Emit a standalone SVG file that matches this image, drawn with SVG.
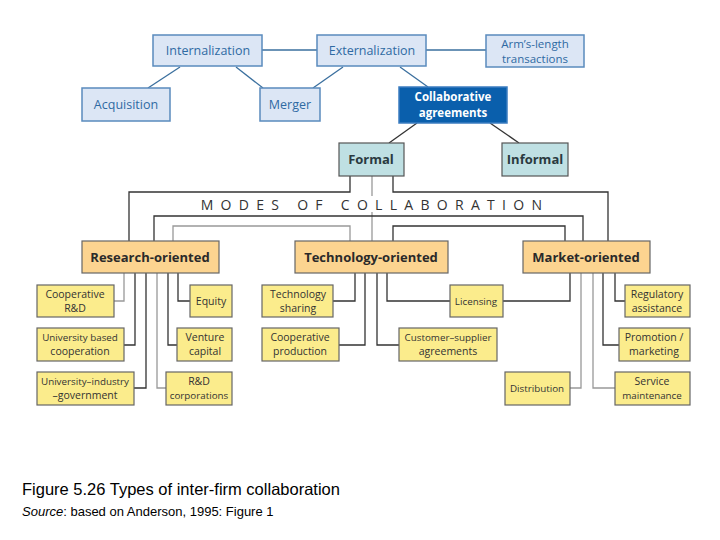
<svg xmlns="http://www.w3.org/2000/svg" width="720" height="540" viewBox="0 0 720 540">
<style>
text{font-family:"Liberation Sans Narrow","Open Sans","Liberation Sans",sans-serif;text-anchor:middle}
.b rect{fill:#dce6f5;stroke:#5a8bbd;stroke-width:1.5}
.b text{fill:#2f6aa3;font-size:12.5px}
.b text.s{font-size:11.5px}
.c rect{fill:#0a5fac;stroke:#3b7cc0;stroke-width:1.5}
.c text{fill:#fff;font-size:11.5px;font-weight:bold}
.t rect{fill:#bfe0e3;stroke:#555;stroke-width:1.2}
.t text{fill:#2a3a40;font-size:13px;font-weight:bold}
.o rect{fill:#fcd490;stroke:#666;stroke-width:1.2}
.o text{fill:#2a2a2a;font-size:13px;font-weight:bold}
.y rect{fill:#fbec8c;stroke:#666;stroke-width:1.2}
.y text{fill:#333;font-size:10.5px}
.y text.n{font-size:9.8px}
#conn path,#conn line{fill:none;stroke:#333;stroke-width:1.3}
#conn .g{stroke:#999}
#conn .bl{stroke:#3a6f9e}
</style>
<rect width="720" height="540" fill="#fff"/>
<g id="conn">
<line class="bl" x1="262" y1="50" x2="317" y2="50"/>
<line class="bl" x1="426" y1="50" x2="486" y2="50"/>
<line class="bl" x1="180" y1="67" x2="148" y2="88"/>
<line class="bl" x1="236" y1="67" x2="263" y2="88"/>
<line class="bl" x1="343" y1="67" x2="313" y2="88"/>
<line class="bl" x1="400" y1="67" x2="428" y2="87"/>
<line x1="417" y1="123" x2="389" y2="143"/>
<line x1="490" y1="123" x2="519" y2="143"/>
<path d="M350 176V192H129V241"/>
<path d="M393 176V192H608V241"/>
<line class="g" x1="372" y1="176" x2="372" y2="196"/>
<line class="g" x1="372" y1="212" x2="372" y2="241"/>
<path d="M154 241V216H583V241"/>
<path class="g" d="M173 241V226H350V241"/>
<path d="M393 241V226H565V241"/>
<path class="g" d="M124 273V301H114"/>
<path d="M135 273V345H124"/>
<path d="M146 273V388H134"/>
<path class="g" d="M157 273V388H166"/>
<path d="M168 273V345H177"/>
<path d="M178 273V301H190"/>
<path d="M355 273V301H333"/>
<path d="M365 273V345H339"/>
<path d="M377 273V345H399"/>
<path d="M387 273V301H450"/>
<path d="M503 301H570V273"/>
<path class="g" d="M570 388H581V273"/>
<path class="g" d="M593 273V388H615"/>
<path d="M603 273V345H619"/>
<path d="M615 273V301H625"/>
</g>
<text x="375" y="210" style="font-family:'Open Sans',sans-serif;font-size:14px;letter-spacing:7.3px;fill:#333">MODES OF COLLABORATION</text>
<g id="internalization" class="b"><rect x="153" y="35" width="109" height="31"/><text x="208" y="55">Internalization</text></g>
<g id="externalization" class="b"><rect x="317" y="35" width="109" height="31"/><text x="372" y="55">Externalization</text></g>
<g id="armslength" class="b"><rect x="486" y="35" width="98" height="32"/><text class="s" x="535" y="48">Arm’s-length</text><text class="s" x="535" y="63">transactions</text></g>
<g id="acquisition" class="b"><rect x="82" y="88" width="88" height="33"/><text x="126" y="109">Acquisition</text></g>
<g id="merger" class="b"><rect x="260" y="88" width="60" height="33"/><text x="290" y="109">Merger</text></g>
<g id="collab" class="c"><rect x="399" y="87" width="108" height="36"/><text x="453" y="101">Collaborative</text><text x="453" y="117">agreements</text></g>
<g id="formal" class="t"><rect x="339" y="143" width="65" height="33"/><text x="371" y="164">Formal</text></g>
<g id="informal" class="t"><rect x="502" y="143" width="66" height="33"/><text x="535" y="164">Informal</text></g>
<g id="research" class="o"><rect x="82" y="241" width="137" height="32"/><text x="150" y="262">Research-oriented</text></g>
<g id="technology" class="o"><rect x="295" y="241" width="153" height="32"/><text x="371" y="262">Technology-oriented</text></g>
<g id="market" class="o"><rect x="523" y="241" width="127" height="32"/><text x="586" y="262">Market-oriented</text></g>
<g id="coopRD" class="y"><rect x="37" y="285" width="77" height="32"/><text x="75" y="298">Cooperative</text><text x="75" y="312">R&amp;D</text></g>
<g id="univ" class="y"><rect x="37" y="328" width="87" height="33"/><text class="n" x="80" y="341">University based</text><text x="80" y="355">cooperation</text></g>
<g id="uig" class="y"><rect x="37" y="372" width="97" height="33"/><text class="n" x="85" y="385">University–industry</text><text x="85" y="399">–government</text></g>
<g id="equity" class="y"><rect x="190" y="285" width="42" height="32"/><text x="211" y="305">Equity</text></g>
<g id="venture" class="y"><rect x="177" y="328" width="55" height="33"/><text x="205" y="341">Venture</text><text x="205" y="355">capital</text></g>
<g id="rdcorp" class="y"><rect x="166" y="372" width="66" height="33"/><text x="199" y="385">R&amp;D</text><text class="n" x="199" y="399">corporations</text></g>
<g id="techshare" class="y"><rect x="262" y="285" width="71" height="32"/><text x="298" y="298">Technology</text><text x="298" y="312">sharing</text></g>
<g id="coopprod" class="y"><rect x="262" y="328" width="77" height="33"/><text x="300" y="341">Cooperative</text><text x="300" y="355">production</text></g>
<g id="licensing" class="y"><rect x="450" y="285" width="53" height="32"/><text class="n" x="476" y="305">Licensing</text></g>
<g id="custsupp" class="y"><rect x="399" y="328" width="98" height="33"/><text class="n" x="448" y="341">Customer–supplier</text><text x="448" y="355">agreements</text></g>
<g id="distribution" class="y"><rect x="505" y="372" width="65" height="33"/><text class="n" x="537" y="392">Distribution</text></g>
<g id="regulatory" class="y"><rect x="625" y="285" width="65" height="32"/><text x="657" y="298">Regulatory</text><text x="657" y="312">assistance</text></g>
<g id="promotion" class="y"><rect x="619" y="328" width="71" height="33"/><text x="654" y="341">Promotion /</text><text x="654" y="355">marketing</text></g>
<g id="service" class="y"><rect x="615" y="372" width="75" height="33"/><text x="652" y="385">Service</text><text class="n" x="652" y="399">maintenance</text></g>
<text x="22" y="495" style="text-anchor:start;font-family:'Liberation Sans',sans-serif;font-size:16.5px;fill:#000">Figure 5.26 Types of inter-firm collaboration</text>
<text x="22" y="516" style="text-anchor:start;font-family:'Liberation Sans',sans-serif;font-size:13px;fill:#000"><tspan font-style="italic">Source</tspan>: based on Anderson, 1995: Figure 1</text>
</svg>
